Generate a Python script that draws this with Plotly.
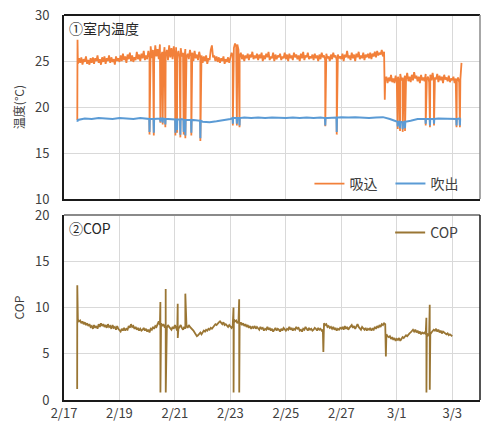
import numpy as np
import pandas as pd
import plotly.graph_objects as go
from plotly.subplots import make_subplots

# ---------------- data (hours since 2023-02-17 00:00) ----------------
START = pd.Timestamp("2023-02-17 00:00")

# 吸込 (intake) temperature, hourly from 12 h
intake_start_h = [11.5, 11.7]
intake_start_v = [18.6, 27.3]
intake_step_h = 1.0
intake_first_h = 12.0
intake_vals = [
    24.7, 25.3, 24.8, 25.4, 24.6, 25.2, 24.9, 25.5, 24.7, 25.1, 24.6, 25.3,  # 2/17 12-23
    24.8, 25.4, 24.7, 25.3, 25.0, 25.6, 24.8, 25.2, 24.6, 25.4, 24.9, 25.5,
    24.7, 25.3, 25.0, 25.6, 24.8, 25.4, 24.9, 25.2, 24.6, 25.5, 25.0, 25.3,  # 2/18
    24.9, 25.6, 25.0, 25.8, 25.1, 25.5, 24.8, 25.7, 25.2, 25.9, 25.0, 25.6,
    24.9, 25.4, 25.1, 26.0, 25.2, 25.7, 25.0, 25.8, 25.3, 26.1, 25.1, 25.6,  # 2/19
    25.2, 26.1, 25.4, 26.6, 25.3, 26.2, 25.0, 26.7, 25.5, 26.3, 25.2, 26.8,
    25.4, 26.0, 25.3, 26.5, 25.6, 26.2, 25.1, 26.7, 25.4, 26.4, 25.2, 26.6,  # 2/20
    25.3, 26.5, 25.6, 26.1, 25.2, 26.4, 25.5, 25.9, 25.1, 26.3, 25.4, 25.8,
    25.2, 26.2, 25.5, 25.9, 25.0, 26.1, 25.3, 25.7, 25.1, 26.0, 25.4, 25.6,  # 2/21
    24.8, 25.5, 25.0, 25.6, 24.7, 25.3, 25.1, 26.2, 26.7, 25.4, 25.6, 25.0,
    25.5, 24.9, 25.4, 24.8, 25.3, 25.0, 25.5, 24.7, 25.2, 24.9, 25.4, 24.8,  # 2/22
    25.3, 25.9, 25.6, 26.4, 26.9, 26.6, 26.8, 26.2, 25.4, 25.9, 25.2, 25.7,
    25.0, 25.6, 25.3, 25.8, 25.1, 25.7, 25.4, 26.0, 25.2, 25.6, 25.3, 25.8,  # 2/23
    25.1, 25.7, 25.3, 25.9, 25.0, 25.6, 25.2, 25.8, 25.4, 26.0, 25.1, 25.5,
    25.3, 25.9, 25.0, 25.7, 25.2, 25.6, 25.4, 25.8, 25.1, 25.5, 25.3, 25.9,  # 2/24
    25.2, 25.7, 25.0, 25.8, 25.3, 25.6, 25.1, 25.9, 25.4, 25.7, 25.2, 25.6,
    25.0, 25.8, 25.3, 26.0, 25.1, 25.6, 25.4, 25.9, 25.2, 25.5, 25.3, 25.7,  # 2/25
    25.1, 25.8, 25.3, 25.6, 25.0, 25.7, 25.2, 25.9, 25.4, 25.6, 25.1, 25.8,
    25.3, 25.5, 25.0, 25.7, 25.2, 25.9, 25.4, 25.6, 25.1, 25.7, 25.3, 25.5,  # 2/26
    25.2, 25.8, 25.0, 25.7, 25.4, 26.1, 25.3, 25.6, 25.1, 25.9, 25.3, 25.7,
    25.0, 25.8, 25.4, 26.0, 25.2, 25.6, 25.3, 25.9, 25.1, 25.7, 25.4, 25.8,  # 2/27
    25.3, 25.9, 25.2, 25.8, 25.5, 26.0, 25.4, 26.1, 25.6, 25.9, 25.7, 26.2,
    25.5, 26.0, 22.9, 23.3, 22.6, 23.2, 22.8, 23.5, 22.7, 23.1, 22.6, 23.4,  # 2/28
    22.7, 23.3, 22.8, 23.6, 22.9, 23.2, 22.6, 23.4, 23.0, 23.7, 22.8, 23.3,
    22.7, 23.5, 22.9, 23.8, 23.1, 23.4, 22.8, 23.3, 22.6, 23.5, 22.9, 23.2,  # 3/1
    22.8, 23.6, 23.0, 23.3, 22.7, 23.5, 22.9, 23.7, 22.8, 23.2, 23.0, 23.6,
    22.7, 23.4, 22.9, 23.3, 22.6, 23.5, 23.0, 23.2, 22.8, 23.4, 22.7, 23.1,  # 3/2
    22.9, 23.3, 22.6, 23.1, 22.8, 23.2, 22.7, 23.0, 24.8,                    # 3/3 0-8
]
intake_dip_h = [74.0, 77.7, 83.4, 85.4, 87.7, 96.4, 97.8, 100.7, 103.6, 105.0,
                110.2, 118.0, 146.1, 149.6, 151.9, 226.1, 236.0, 277.6,
                288.8, 290.8, 293.1, 295.1, 313.0, 316.7, 320.2, 339.7, 342.6]
intake_dip_v = [17.0, 16.9, 18.3, 18.1, 17.8, 16.9, 17.2, 16.7, 17.0, 16.6,
                16.9, 16.3, 18.0, 18.0, 17.8, 17.9, 17.0, 20.8,
                17.6, 17.4, 17.3, 17.4, 18.0, 17.8, 18.0, 17.8, 17.8]

# 吹出 (outlet) temperature, every 6 h from 12 h
outlet_start_h = [11.5]
outlet_start_v = [18.4]
outlet_step_h = 6.0
outlet_first_h = 12.0
outlet_vals = [
    18.60, 18.75, 18.70, 18.80, 18.75, 18.70, 18.80, 18.75, 18.70, 18.80,
    18.75, 18.70, 18.75, 18.70, 18.65, 18.70, 18.60, 18.55, 18.40, 18.35,
    18.45, 18.55, 18.70, 18.80, 18.85, 18.80, 18.85, 18.80, 18.85, 18.80,
    18.80, 18.85, 18.80, 18.85, 18.80, 18.85, 18.80, 18.85, 18.90, 18.85,
    18.90, 18.85, 18.80, 18.85, 18.90, 18.70, 18.50, 18.35, 18.50, 18.70,
    18.70, 18.70, 18.75, 18.70, 18.70, 18.75,
]
outlet_dip_h = [74.0, 77.7, 83.4, 85.4, 87.7, 96.4, 97.8, 100.7, 103.6, 105.0,
                110.2, 118.0, 146.1, 149.6, 151.9, 226.1, 236.0,
                288.8, 290.8, 293.1, 295.1, 313.0, 316.7, 320.2, 339.7, 342.6]
outlet_dip_level = [18.7, 18.7, 18.75, 18.75, 18.7, 18.65, 18.65, 18.65, 18.6, 18.6,
                    18.6, 18.5, 18.8, 18.8, 18.8, 18.8, 18.85,
                    18.4, 18.4, 18.35, 18.4, 18.7, 18.7, 18.7, 18.7, 18.75]
outlet_dip_v = [17.3, 17.2, 18.4, 18.3, 18.1, 17.2, 17.5, 17.0, 17.3, 16.9,
                17.2, 16.6, 18.2, 18.2, 18.0, 18.0, 17.3,
                17.9, 17.7, 17.6, 17.7, 18.2, 18.0, 18.2, 18.0, 18.0]

# COP, hourly from 12 h
cop_step_h = 1.0
cop_first_h = 12.0
cop_vals = [
    8.7, 8.5, 8.6, 8.3, 8.5, 8.2, 8.4, 8.1, 8.3, 8.0, 8.2, 7.9,              # 2/17 12-23
    8.0, 7.7, 8.1, 7.8, 8.0, 7.7, 8.2, 7.9, 8.3, 8.0, 8.2, 7.9,
    8.1, 7.8, 8.2, 7.9, 8.0, 7.7, 8.1, 7.8, 7.9, 7.6, 8.0, 7.7,              # 2/18
    7.6, 7.4, 7.7, 7.5, 7.8, 7.5, 7.7, 7.6, 8.0, 7.8, 8.2, 7.9,
    8.0, 7.7, 7.9, 7.6, 7.8, 7.5, 7.7, 7.5, 7.6, 7.8, 7.5, 7.7,              # 2/19
    7.4, 7.6, 7.3, 7.7, 7.6, 7.9, 7.7, 8.0, 7.9, 8.2, 8.5, 8.1,
    8.3, 8.0, 8.2, 7.9, 8.0, 7.8, 8.1, 7.9, 7.8, 7.6, 7.9, 7.7,              # 2/20
    8.1, 7.8, 7.5, 7.7, 7.9, 8.1, 7.8, 7.6, 7.9, 7.7, 8.0, 7.8,
    8.1, 7.9, 7.8, 7.6, 7.5, 7.3, 7.1, 6.9, 7.0, 7.2, 7.3, 7.1,              # 2/21
    7.3, 7.5, 7.4, 7.6, 7.5, 7.7, 7.6, 7.8, 7.7, 7.9, 8.0, 8.2,
    8.1, 8.3, 8.4, 8.5, 8.3, 8.2, 8.4, 8.1, 8.2, 8.0, 7.9, 8.1,              # 2/22
    7.9, 7.8, 8.0, 8.7, 8.5, 8.6, 8.3, 8.5, 8.2, 8.4, 8.1, 8.3,
    8.0, 8.2, 7.9, 8.1, 7.8, 8.0, 7.7, 7.9, 7.8, 8.0, 7.7, 7.9,              # 2/23
    7.8, 7.6, 7.9, 7.7, 7.8, 7.5, 7.7, 7.6, 7.9, 7.6, 7.8, 7.5,
    7.7, 7.4, 7.6, 7.8, 7.5, 7.7, 7.6, 7.4, 7.7, 7.5, 7.8, 7.6,              # 2/24
    7.5, 7.7, 7.6, 7.9, 7.6, 7.8, 7.5, 7.7, 7.6, 7.9, 7.7, 7.8,
    7.5, 7.6, 7.4, 7.7, 7.6, 7.9, 7.7, 7.5, 7.8, 7.6, 7.7, 7.5,              # 2/25
    7.6, 7.8, 7.7, 7.5, 7.8, 7.6, 7.7, 7.5, 7.6, 8.3, 8.1, 8.2,
    7.9, 8.0, 7.8, 7.9, 7.7, 7.9, 7.6, 7.8, 7.5, 7.7, 7.6, 7.8,              # 2/26
    7.7, 7.9, 7.6, 8.0, 7.7, 7.9, 7.6, 7.8, 7.9, 8.1, 7.8, 8.0,
    7.7, 7.9, 8.2, 7.9, 7.8, 7.6, 7.9, 7.7, 7.6, 7.8, 7.5, 7.7,              # 2/27
    7.6, 7.8, 7.5, 7.7, 7.6, 7.9, 7.7, 8.0, 7.8, 8.1, 7.9, 8.2,
    8.1, 8.3, 8.2, 7.1, 6.9, 6.8, 6.9, 6.6, 6.8, 6.5, 6.7, 6.4,              # 2/28
    6.6, 6.5, 6.7, 6.4, 6.6, 6.8, 6.7, 6.9, 7.0, 6.9, 7.1, 7.2,
    7.3, 7.5, 7.6, 7.4, 7.6, 7.3, 7.5, 7.2, 7.4, 7.1, 7.3, 7.2,              # 3/1
    7.3, 7.1, 7.2, 7.0, 7.2, 7.1, 7.3, 7.5, 7.6, 7.5, 7.7, 7.4,
    7.6, 7.3, 7.5, 7.2, 7.4, 7.3, 7.2, 7.1, 7.2, 7.0, 7.1, 7.0,              # 3/2
    6.9,                                                                     # 3/3 0
]
cop_spike_h = [11.5, 83.4, 88.0, 98.4, 105.0, 146.7, 151.6, 224.4, 278.5, 313.6, 316.5]
cop_spike_hi = [12.4, 10.6, 12.0, 10.4, 11.5, 10.0, 10.9, None, None, 8.9, 10.3]
cop_spike_lo = [1.2, 0.8, 0.8, 6.7, None, 0.8, 0.8, 5.2, 4.7, 0.8, 1.1]

tick_labels = ["2/17", "2/19", "2/21", "2/23", "2/25", "2/27", "3/1", "3/3"]
tick_days = [0, 2, 4, 6, 8, 10, 12, 14]
x_max_days = 15

# ---------------- build series ----------------
def regular(first, step, vals):
    return [(first + step * i, v) for i, v in enumerate(vals)]

def to_xy(pairs):
    pairs = sorted(pairs, key=lambda p: p[0])
    h = np.array([p[0] for p in pairs], float)
    x = START + pd.to_timedelta(h, unit="h")
    return list(x), [p[1] for p in pairs]

intake_pairs = list(zip(intake_start_h, intake_start_v)) \
    + regular(intake_first_h, intake_step_h, intake_vals) \
    + list(zip(intake_dip_h, intake_dip_v))
ix, iy = to_xy(intake_pairs)

outlet_pairs = list(zip(outlet_start_h, outlet_start_v)) \
    + regular(outlet_first_h, outlet_step_h, outlet_vals)
for h, lv, dv in zip(outlet_dip_h, outlet_dip_level, outlet_dip_v):
    outlet_pairs += [(h - 0.25, lv), (h, dv), (h + 0.25, lv)]
ox, oy = to_xy(outlet_pairs)

cop_pairs = regular(cop_first_h, cop_step_h, cop_vals)
for h, hi, lo in zip(cop_spike_h, cop_spike_hi, cop_spike_lo):
    if h < cop_first_h:
        if lo is not None:
            cop_pairs.append((h - 0.1, lo))
        if hi is not None:
            cop_pairs.append((h, hi))
        continue
    if hi is not None:
        cop_pairs.append((h, hi))
    if lo is not None:
        cop_pairs.append((h + 0.05, lo))
cx, cy = to_xy(cop_pairs)

# ---------------- figure ----------------
FONT = "Noto Sans CJK JP"
ORANGE = "#F2803A"
BLUE = "#5B9BD5"
GOLD = "#9A7634"
GRID = "#D9D9D9"
TXT = "#404040"

fig = make_subplots(rows=2, cols=1, shared_xaxes=True)

fig.add_trace(go.Scatter(x=ix, y=iy, mode="lines", name="吸込",
                         line=dict(color=ORANGE, width=1.8), legend="legend"), row=1, col=1)
fig.add_trace(go.Scatter(x=ox, y=oy, mode="lines", name="吹出",
                         line=dict(color=BLUE, width=2), legend="legend"), row=1, col=1)
fig.add_trace(go.Scatter(x=cx, y=cy, mode="lines", name="COP",
                         line=dict(color=GOLD, width=1.8), legend="legend2"), row=2, col=1)

tickvals = [START + pd.Timedelta(days=d) for d in tick_days]
xrange_ = [START, START + pd.Timedelta(days=x_max_days)]

axis_common = dict(showgrid=True, gridcolor=GRID, gridwidth=1, zeroline=False,
                   showline=True, linecolor="#1a1a1a", linewidth=2,
                   tickfont=dict(family=FONT, size=13, color=TXT))

fig.update_xaxes(range=xrange_, tickvals=tickvals, ticktext=tick_labels, **axis_common)
fig.update_xaxes(showticklabels=False, row=1, col=1)

fig.update_yaxes(range=[10, 30], dtick=5, tick0=0, ticklabelstandoff=10,
                 title=dict(text="温度(°C)", standoff=8, font=dict(family=FONT, size=12, color=TXT)),
                 domain=[0.522, 1.0], row=1, col=1, **axis_common)
fig.update_yaxes(range=[0, 20], dtick=5, tick0=0, ticklabelstandoff=10,
                 title=dict(text="COP", standoff=8, font=dict(family=FONT, size=12, color=TXT)),
                 domain=[0.0, 0.4805], row=2, col=1, **axis_common)

shapes = [
    dict(type="line", xref="paper", yref="paper", x0=0, x1=1, y0=1, y1=1,
         line=dict(color="#1a1a1a", width=2)),
    dict(type="line", xref="paper", yref="paper", x0=1, x1=1, y0=0.522, y1=1,
         line=dict(color="#8a8a8a", width=1.5)),
    dict(type="line", xref="paper", yref="paper", x0=0, x1=1, y0=0.4805, y1=0.4805,
         line=dict(color="#8a8a8a", width=2)),
    dict(type="line", xref="paper", yref="paper", x0=1, x1=1, y0=0, y1=0.4805,
         line=dict(color="#1a1a1a", width=1.5)),
]

annotations = [
    dict(text="①室内温度", xref="paper", yref="paper", x=0.008, y=0.966,
         xanchor="left", yanchor="middle", showarrow=False,
         font=dict(family=FONT, size=14, color="#262626")),
    dict(text="②COP", xref="paper", yref="paper", x=0.008, y=0.447,
         xanchor="left", yanchor="middle", showarrow=False,
         font=dict(family=FONT, size=14, color="#262626")),
]

fig.update_layout(
    width=484, height=425,
    margin=dict(l=64, r=4, t=15, b=25),
    paper_bgcolor="white", plot_bgcolor="white",
    font=dict(family=FONT, size=13, color=TXT),
    shapes=shapes, annotations=annotations,
    legend=dict(orientation="h", x=0.59, y=0.561, xanchor="left", yanchor="middle",
                bgcolor="rgba(0,0,0,0)", font=dict(family=FONT, size=14, color=TXT),
                entrywidth=36, entrywidthmode="pixels"),
    legend2=dict(orientation="h", x=0.784, y=0.434, xanchor="left", yanchor="middle",
                 bgcolor="rgba(0,0,0,0)", font=dict(family=FONT, size=14, color=TXT)),
    showlegend=True,
)

fig.write_html("out.html", config={"displayModeBar": False},
               post_script="document.body.style.margin='0';")
